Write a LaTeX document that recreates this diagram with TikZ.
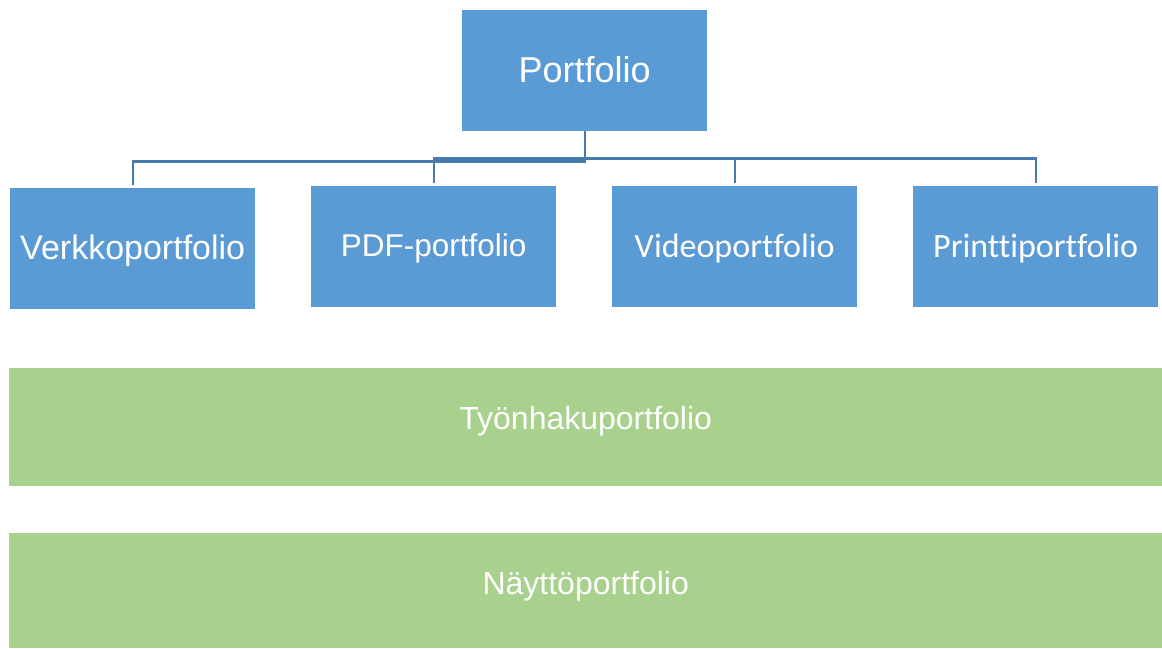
\documentclass[tikz,border=0pt]{standalone}
\usepackage{fontspec}
\setmainfont{Liberation Sans}
\newfontfamily\calibri[Ligatures=NoCommon]{Carlito}
\definecolor{boxblue}{HTML}{5B9BD5}
\definecolor{boxgreen}{HTML}{A9D18E}
\definecolor{linkblue}{RGB}{72,122,172}
\newcommand\liftby[2]{\raisebox{#1}[\height][\depth]{#2}}
\begin{document}
\begin{tikzpicture}[x=1pt,y=-1pt,
  bluebox/.style={fill=boxblue,draw=none,minimum width=245pt,minimum height=121pt,inner sep=0pt,text=white,anchor=north west},
  greenbar/.style={fill=boxgreen,draw=none,inner sep=0pt,text=white,anchor=north west,font=\fontsize{32}{38}\selectfont},
  link/.style={draw=linkblue,line width=2.4pt,shorten >=3pt}]
\useasboundingbox (0,0) rectangle (1162,648);
\node[bluebox,font=\fontsize{36}{42}\selectfont] (top) at (462,10) {\liftby{1pt}{Portfolio}};
\node[bluebox,font=\fontsize{34}{40}\selectfont] (verkko) at (10,188) {\liftby{-2pt}{Verkkoportfolio}};
\node[bluebox,font=\fontsize{31.5}{38}\selectfont] (pdf) at (311,186) {\liftby{-2pt}{PDF-portfolio}};
\node[bluebox,font=\calibri\fontsize{34}{40}\selectfont] (video) at (612,186) {\liftby{-2pt}{Videoportfolio}};
\node[bluebox,font=\calibri\fontsize{34}{40}\selectfont] (printti) at (913,186) {\liftby{-2pt}{Printtiportfolio}};
\node[greenbar,minimum width=1153pt,minimum height=118pt] (tyonhaku) at (9,368) {\liftby{6pt}{Työnhakuportfolio}};
\node[greenbar,minimum width=1153pt,minimum height=115pt] (naytto) at (9,533) {\liftby{4pt}{Näyttöportfolio}};
\coordinate (m1) at ([yshift=-30pt]top.south);
\coordinate (m2) at ([yshift=-27pt]top.south);
\draw[link] (top.south) -- (m1) -| (verkko.north);
\draw[link] (top.south) -- (m2) -| (pdf.north);
\draw[link] (top.south) -- (m2) -| (video.north);
\draw[link] (top.south) -- (m2) -| (printti.north);
\end{tikzpicture}
\end{document}
